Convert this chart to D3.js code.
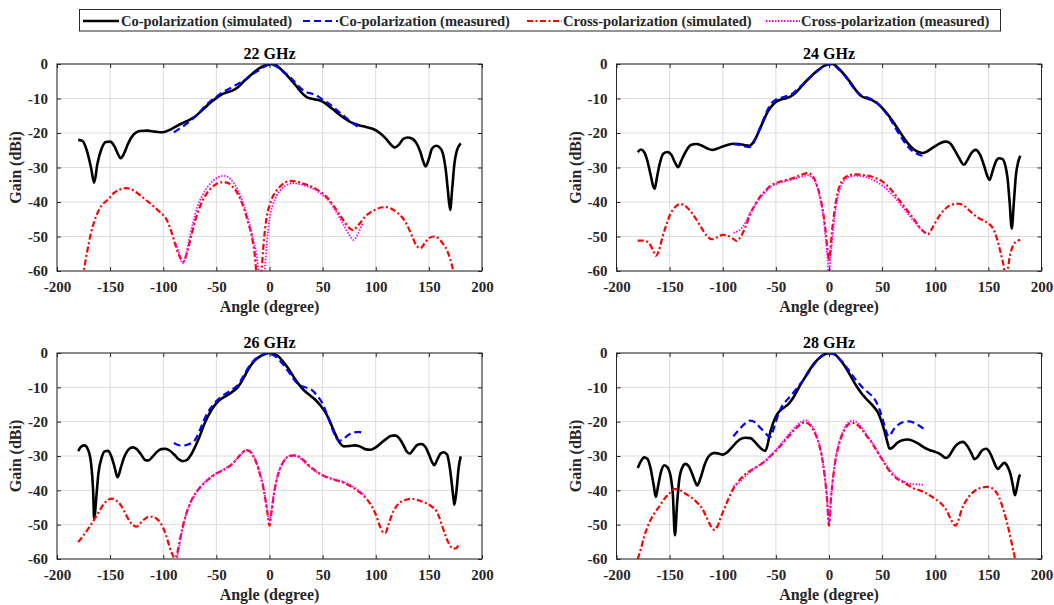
<!DOCTYPE html>
<html>
<head>
<meta charset="utf-8">
<script src="https://cdn.jsdelivr.net/npm/d3@7"></script>
<style>
  body { margin: 0; background: #fff; }
  svg { display: block; font-family: "Liberation Serif", "Times New Roman", serif; font-weight: bold; }
</style>
</head>
<body>
<div id="chart"></div>
<script>
// tick values shared by all panels
const xTicks = [-200, -150, -100, -50, 0, 50, 100, 150, 200];
const yTicks = [-60, -50, -40, -30, -20, -10, 0];

const titles = ["22 GHz", "24 GHz", "26 GHz", "28 GHz"];
const seriesNames = ["Co-polarization (simulated)", "Co-polarization (measured)",
                     "Cross-polarization (simulated)", "Cross-polarization (measured)"];

// [angle, gain]
const co22Sim = [[-180,-22],[-176,-22.3],[-172,-25],[-168,-30],[-165,-34.4],[-162,-29],[-158,-24.5],[-154,-22.6],[-150,-22.5],[-146,-23.8],[-142,-26.5],[-140,-27.3],[-137,-26],[-133,-23],[-128,-20.5],[-122,-19.4],[-115,-19.3],[-108,-19.6],[-100,-19.8],[-92,-18.8],[-85,-17.6],[-78,-16.6],[-70,-15.2],[-62,-13],[-55,-11],[-50,-9.9],[-45,-8.8],[-40,-8.2],[-35,-7.7],[-30,-6.8],[-25,-5.3],[-20,-3.8],[-15,-2.5],[-10,-1.3],[-5,-0.5],[0,-0.1],[3,0],[6,-0.3],[10,-1.3],[15,-2.8],[20,-4.5],[25,-6.3],[30,-8.2],[35,-9.6],[40,-10.1],[45,-10.4],[50,-10.9],[55,-12],[60,-13.2],[65,-14.5],[70,-15.6],[75,-16.6],[80,-17.3],[85,-17.8],[90,-18.2],[95,-18.6],[100,-19.2],[105,-20.3],[110,-21.8],[115,-23.6],[118,-24.2],[122,-23.3],[126,-21.7],[130,-21.3],[134,-21.6],[138,-22.8],[142,-25.5],[145,-28.5],[147,-29.7],[150,-27.5],[153,-24.5],[157,-23.7],[161,-24.5],[164,-27],[166,-31],[168,-37],[170,-42.3],[172,-36],[174,-29],[176,-25.5],[180,-23]];
const co22Meas = [[-90,-19.8],[-85,-18.8],[-80,-17.8],[-75,-16.6],[-70,-15.3],[-65,-13.7],[-60,-12],[-55,-10.6],[-50,-9.5],[-45,-8.3],[-40,-7.5],[-35,-6.7],[-30,-5.8],[-25,-5],[-20,-4],[-15,-2.8],[-10,-1.8],[-5,-0.8],[0,-0.2],[5,-0.5],[10,-1.5],[15,-2.7],[20,-4],[25,-5.6],[30,-7.2],[35,-8.2],[40,-8.6],[45,-9.3],[50,-10.3],[55,-11.3],[60,-12.5],[65,-13.8],[70,-15],[75,-16.3],[80,-17.5],[85,-18.6]];
const cross22Sim = [[-177,-62],[-175,-60],[-172,-55],[-168,-49],[-163,-44],[-158,-41],[-152,-39.3],[-146,-37.3],[-140,-36.3],[-135,-36],[-130,-36.3],[-125,-37.3],[-118,-39],[-110,-41],[-103,-43],[-97,-45],[-93,-48],[-89,-52],[-85,-55.5],[-81,-57.3],[-78,-55],[-75,-51.5],[-70,-45.5],[-65,-41],[-60,-38],[-55,-36],[-50,-34.8],[-45,-34.3],[-40,-34.4],[-35,-35.5],[-30,-37.5],[-25,-41],[-20,-46],[-16,-51],[-14,-55],[-12.5,-60],[-11,-65],[-9,-65],[-7.5,-60],[-5.5,-52],[-3,-45],[0,-41],[3,-38.5],[6,-37],[10,-35.5],[15,-34.3],[20,-33.9],[25,-34],[30,-34.5],[35,-35],[40,-35.6],[45,-36.5],[50,-37.5],[55,-39],[60,-41],[65,-43.2],[70,-45.5],[75,-47.5],[78,-48.1],[82,-47.3],[86,-45.8],[90,-44.2],[95,-43],[100,-42.2],[105,-41.6],[110,-41.5],[115,-42],[120,-43],[125,-44.5],[130,-47],[135,-50.5],[138,-52.5],[142,-53.4],[146,-52],[150,-50.5],[155,-50],[159,-50.5],[163,-52],[167,-54],[170,-56.5],[173,-60],[175,-63]];
const cross22Meas = [[-88,-52],[-85,-55],[-82,-57.8],[-79,-56],[-76,-51.5],[-72,-46],[-68,-41.5],[-63,-38],[-58,-35.5],[-53,-33.8],[-48,-32.8],[-43,-32.4],[-38,-33],[-33,-34.8],[-28,-37.8],[-24,-41],[-20,-45],[-16,-50],[-12,-56],[-10,-61],[-8,-66],[-6,-66],[-4.5,-60],[-2.5,-52],[0,-45],[3,-41],[7,-38],[12,-36],[17,-35],[22,-34.5],[28,-34.8],[34,-35.3],[40,-36],[46,-37],[52,-38.5],[58,-40.5],[64,-43.5],[70,-46.8],[75,-49.5],[79,-51],[82,-50],[85,-48],[88,-46]];

const co24Sim = [[-180,-25.6],[-177,-24.8],[-174,-25.5],[-171,-28],[-168,-32],[-165,-35.8],[-164,-36.2],[-162,-33],[-159,-28.5],[-156,-26],[-152,-25.5],[-148,-26.5],[-145,-28.5],[-142,-29.9],[-139,-28],[-135,-25.5],[-130,-23.5],[-125,-23.2],[-120,-23.6],[-115,-24.4],[-110,-24.9],[-105,-24.5],[-100,-23.9],[-95,-23.4],[-90,-23.1],[-85,-23.2],[-80,-23.5],[-75,-23.7],[-72,-23],[-69,-21.5],[-66,-19.5],[-62,-16.7],[-58,-14],[-54,-12.2],[-50,-11],[-45,-10.3],[-40,-9.9],[-36,-9.4],[-32,-8.5],[-28,-7.2],[-24,-5.8],[-20,-4.5],[-15,-3],[-10,-1.7],[-5,-0.6],[0,-0.1],[3,0],[6,-0.4],[10,-1.6],[15,-3.3],[20,-5.3],[25,-7.5],[30,-9.2],[35,-9.9],[40,-10.4],[45,-11.3],[50,-12.7],[55,-14.5],[60,-16.6],[65,-18.9],[70,-21.2],[75,-23.3],[80,-24.8],[85,-25.6],[88,-25.8],[92,-25.4],[96,-24.6],[100,-23.8],[105,-22.9],[110,-22.5],[114,-23],[118,-24.8],[122,-27],[127,-29.2],[130,-28],[134,-25.8],[138,-24.9],[142,-26.2],[146,-29.5],[149,-32.5],[151,-33.6],[154,-31],[157,-28.3],[160,-27.3],[163,-27.5],[166,-29.5],[168,-33],[170,-40],[172,-47.7],[174,-40],[176,-32],[178,-28.5],[180,-26.6]];
const co24Meas = [[-90,-23.2],[-85,-23.4],[-80,-23.8],[-75,-24.1],[-72,-23.4],[-69,-21.6],[-66,-19.3],[-62,-16.3],[-58,-13.4],[-54,-11.3],[-50,-10.3],[-45,-9.8],[-40,-9.3],[-35,-8.7],[-30,-7.4],[-25,-6],[-20,-4.6],[-15,-3.1],[-10,-1.8],[-5,-0.7],[0,-0.1],[5,-0.5],[10,-1.8],[15,-3.5],[20,-5.6],[25,-7.6],[30,-9],[35,-9.6],[40,-10.2],[45,-11.2],[50,-12.8],[55,-14.8],[60,-17.2],[65,-19.8],[70,-22.2],[75,-24.2],[80,-25.5],[85,-26.3],[88,-26.6],[90,-26.2]];
const cross24Sim = [[-180,-51.2],[-175,-51.2],[-171,-51.5],[-168,-52.5],[-165,-54.5],[-163,-55.6],[-160,-54],[-157,-50.5],[-153,-46.5],[-149,-43.3],[-145,-41.5],[-140,-40.6],[-135,-41.2],[-130,-42.8],[-125,-45],[-120,-47.5],[-115,-49.8],[-110,-50.8],[-105,-50.2],[-100,-49.5],[-95,-49.8],[-90,-50.7],[-87,-51.3],[-83,-50],[-79,-47.5],[-75,-44.2],[-70,-41],[-65,-38.5],[-60,-36.8],[-55,-35.3],[-50,-34.5],[-45,-34],[-40,-33.6],[-35,-33.2],[-30,-32.6],[-25,-32],[-20,-31.6],[-16,-32.3],[-12,-34.5],[-8,-39],[-5,-44],[-3,-49],[-1,-55],[0,-57],[1,-55],[3,-48],[5,-43],[8,-37.5],[12,-34],[16,-32.7],[20,-32.2],[25,-32],[30,-32.1],[35,-32.3],[40,-32.6],[45,-33.2],[50,-34],[55,-35.3],[60,-37],[65,-39],[70,-41],[75,-43],[80,-45],[85,-47.2],[90,-48.8],[93,-49.4],[96,-48.2],[100,-46],[105,-43.5],[110,-41.8],[116,-40.7],[122,-40.5],[128,-41.3],[134,-43],[140,-44.5],[146,-45.5],[150,-46.2],[154,-47.5],[158,-50.5],[161,-54],[164,-58],[166,-61],[168,-60],[170,-56],[173,-52.8],[176,-51.5],[180,-51]];
const cross24Meas = [[-90,-48.9],[-86,-48.5],[-82,-47.5],[-78,-45.5],[-74,-43],[-70,-41],[-65,-39],[-60,-37.2],[-55,-35.6],[-50,-34.8],[-45,-34.3],[-40,-33.9],[-35,-33.5],[-30,-33],[-25,-32.6],[-20,-32.3],[-16,-32.8],[-12,-35],[-8,-39.5],[-5,-45],[-3,-51],[-1,-58],[0,-63],[1,-58],[3,-51],[5,-45],[8,-39],[12,-35],[16,-33.2],[20,-32.6],[25,-32.4],[30,-32.5],[35,-32.8],[40,-33.4],[45,-34.2],[50,-35.2],[55,-36.5],[60,-38],[65,-39.8],[70,-41.8],[75,-43.7],[80,-45.6],[85,-47.4],[90,-49]];

const co26Sim = [[-180,-28.6],[-177,-27.2],[-174,-26.9],[-171,-28],[-168,-32],[-166,-40],[-165,-48.3],[-163,-42],[-161,-35],[-158,-30.5],[-155,-28.6],[-152,-28.5],[-149,-30],[-146,-33],[-143,-36.2],[-140,-33.5],[-137,-30.5],[-133,-28.2],[-129,-27.5],[-125,-28],[-121,-29.5],[-117,-31.2],[-114,-31.3],[-110,-30.2],[-106,-28.8],[-102,-28],[-98,-27.9],[-94,-28.4],[-90,-29.5],[-86,-30.8],[-82,-31.5],[-78,-31.2],[-74,-29.7],[-70,-27.3],[-66,-24.5],[-62,-21.2],[-58,-18.5],[-54,-16.3],[-50,-14.7],[-46,-13.5],[-42,-12.7],[-38,-12],[-34,-11.1],[-30,-10],[-26,-8.2],[-22,-5.9],[-18,-3.8],[-14,-2.2],[-10,-1.2],[-6,-0.5],[-2,-0.1],[1,0],[4,-0.2],[8,-0.9],[12,-2.2],[16,-3.8],[20,-5.6],[24,-7.6],[28,-9.3],[32,-10.7],[36,-11.8],[40,-12.8],[44,-13.9],[48,-15.3],[52,-17],[56,-19.3],[60,-22.3],[64,-25],[67,-26.5],[70,-27.2],[75,-27.1],[80,-26.9],[85,-27.2],[90,-28],[95,-28.2],[100,-27.5],[105,-26.2],[110,-25],[114,-24.2],[118,-24],[122,-24.8],[126,-26.8],[129,-28.6],[132,-29.3],[135,-28.3],[139,-26.8],[143,-26.5],[147,-27.5],[150,-29.5],[153,-31.8],[155,-32.7],[158,-31],[161,-29.3],[164,-28.9],[167,-29.5],[169,-32],[171,-36.5],[173,-42],[174,-44.2],[176,-40],[178,-33.5],[180,-30.1]];
const co26Meas = [[-90,-26.2],[-86,-26.8],[-82,-27],[-78,-26.8],[-74,-26.3],[-70,-25.3],[-66,-22.8],[-62,-19.8],[-58,-17.3],[-54,-15.5],[-50,-14],[-46,-12.9],[-42,-12],[-38,-11.2],[-34,-10.4],[-30,-9.4],[-26,-7.5],[-22,-5.3],[-18,-3.4],[-14,-2],[-10,-1.1],[-6,-0.5],[-2,-0.2],[2,-0.4],[6,-1.1],[10,-2.3],[14,-3.8],[18,-5.5],[22,-7.3],[26,-8.8],[30,-9.6],[35,-10.1],[40,-10.8],[45,-12.5],[50,-14.8],[54,-17.8],[58,-21.2],[62,-24.2],[65,-25.5],[68,-25.4],[72,-24.4],[76,-23.5],[80,-23.1],[84,-23],[88,-23.3],[90,-23.5]];
const cross26Sim = [[-180,-55.1],[-176,-53.5],[-172,-51.8],[-168,-50],[-164,-48],[-160,-46],[-156,-44],[-152,-42.8],[-148,-42.4],[-144,-43],[-140,-44.3],[-136,-46.5],[-132,-48.8],[-128,-50.2],[-125,-50.6],[-122,-49.7],[-118,-48.5],[-114,-47.7],[-110,-47.7],[-106,-48.3],[-102,-49.8],[-98,-52.5],[-95,-55.5],[-92,-58.3],[-89,-59.7],[-87,-58.5],[-85,-55.5],[-82,-51],[-78,-46.5],[-74,-43.3],[-70,-41],[-65,-39],[-60,-37.5],[-55,-36.2],[-50,-35.1],[-45,-34.3],[-40,-33.5],[-35,-32.3],[-30,-30.6],[-26,-29.2],[-22,-28.3],[-18,-28.8],[-15,-30.2],[-12,-32.3],[-9,-35.3],[-6,-39],[-4,-42.5],[-2,-46.5],[0,-50.3],[2,-46],[4,-41.5],[6,-38],[9,-34.5],[12,-32.3],[16,-30.5],[20,-29.9],[24,-29.8],[28,-30.2],[32,-31.2],[36,-32.5],[40,-33.5],[45,-34.7],[50,-35.6],[55,-36.3],[60,-36.8],[65,-37.3],[70,-37.8],[75,-38.6],[80,-39.5],[85,-40.6],[90,-42],[95,-44],[100,-47],[104,-50.5],[107,-52.2],[109,-52.4],[112,-50],[115,-47.3],[119,-44.8],[124,-43.3],[129,-42.7],[133,-42.5],[138,-42.7],[143,-43.2],[148,-43.8],[153,-44.8],[157,-46],[160,-48],[163,-50.8],[166,-53.5],[169,-55.6],[173,-57],[176,-56.8],[178,-56],[180,-55.8]];
const cross26Meas = [[-89,-64],[-87,-60],[-85,-56.5],[-82,-51.5],[-78,-46.5],[-74,-43.5],[-70,-41.3],[-65,-39],[-60,-37.3],[-55,-36],[-50,-35],[-45,-34.2],[-40,-33.3],[-35,-32.2],[-30,-30.5],[-26,-29.2],[-22,-28.2],[-18,-28.6],[-15,-30],[-12,-32],[-9,-35],[-6,-38.5],[-4,-42],[-2,-45.8],[0,-49],[2,-45.5],[4,-41],[6,-37.8],[9,-34.3],[12,-32.2],[16,-30.5],[20,-29.9],[24,-30],[28,-30.5],[32,-31.5],[36,-32.7],[40,-33.7],[45,-34.8],[50,-35.6],[55,-36.2],[60,-36.7],[65,-37.1],[70,-37.6],[75,-38.3],[80,-39.2],[85,-40.3],[90,-41.5]];

const co28Sim = [[-180,-33.5],[-177,-31.5],[-174,-30.4],[-171,-30.8],[-168,-33.5],[-165,-38.5],[-163,-41.9],[-161,-39],[-158,-34.5],[-155,-32.7],[-152,-33.3],[-149,-36],[-147,-41],[-145,-53.1],[-143,-44],[-141,-37],[-138,-33.3],[-135,-32.3],[-132,-33],[-129,-35],[-126,-37.5],[-124,-38.6],[-121,-36.5],[-117,-32.5],[-113,-30],[-108,-29.1],[-104,-29.3],[-100,-29.6],[-96,-29],[-92,-27.7],[-88,-26.3],[-84,-25.2],[-79,-24.7],[-74,-24.8],[-70,-25.8],[-66,-27.2],[-62,-28.3],[-60,-28.5],[-58,-27],[-56,-24],[-53,-20.8],[-50,-18.5],[-46,-16.8],[-42,-15.8],[-38,-14.8],[-34,-13.2],[-30,-11],[-26,-8.8],[-22,-6.8],[-18,-4.8],[-14,-3],[-10,-1.7],[-6,-0.7],[-2,-0.1],[2,0],[6,-0.5],[10,-1.8],[14,-3.4],[18,-5.4],[22,-7.6],[26,-9.7],[30,-11.5],[34,-13],[38,-14.3],[42,-15.6],[46,-17.3],[49,-19.5],[52,-22.5],[55,-26],[57,-27.9],[60,-27.5],[64,-26.2],[69,-25.4],[74,-25.2],[79,-25.6],[84,-26.4],[90,-27.6],[95,-28.3],[100,-28.8],[105,-29.5],[110,-30.6],[113,-30],[117,-28],[121,-26.5],[126,-25.9],[130,-27],[134,-29.2],[137,-30.9],[140,-30.2],[144,-28.4],[148,-27.9],[151,-28.8],[154,-30.8],[157,-33],[159,-33.8],[162,-32.8],[165,-32],[168,-33],[171,-35.5],[173,-38.5],[175,-41.4],[177,-39],[179,-36],[180,-35.4]];
const co28Meas = [[-90,-24.3],[-86,-22.8],[-82,-21.4],[-78,-20.3],[-75,-19.7],[-72,-19.8],[-68,-20.7],[-64,-22],[-60,-23.3],[-57,-24.2],[-55,-24.4],[-53,-23],[-50,-20],[-47,-17.3],[-44,-15.4],[-40,-13.8],[-36,-12.5],[-32,-11],[-28,-9.4],[-24,-7.8],[-20,-6],[-16,-4.1],[-12,-2.5],[-8,-1.2],[-4,-0.4],[0,-0.1],[4,-0.3],[8,-1.1],[12,-2.4],[16,-4],[20,-5.6],[24,-7.3],[28,-8.8],[32,-10.2],[36,-11.3],[40,-12.4],[44,-14],[47,-16],[50,-18.8],[53,-22],[55,-23.8],[57,-24.3],[59,-23.2],[62,-21.8],[66,-20.7],[70,-20.1],[75,-19.9],[80,-20.3],[85,-21.2],[90,-22.3]];
const cross28Sim = [[-180,-60],[-177,-57],[-174,-53.5],[-170,-50],[-165,-47],[-160,-44.8],[-155,-42.5],[-150,-40.8],[-145,-39.6],[-140,-40],[-135,-41],[-130,-42],[-125,-43.3],[-120,-45],[-116,-47.3],[-112,-50],[-108,-51.5],[-105,-50.5],[-102,-48],[-98,-45],[-94,-42],[-90,-39.5],[-85,-37.3],[-80,-35.6],[-75,-34.5],[-70,-33.5],[-65,-32.6],[-60,-31.5],[-55,-30],[-50,-28.5],[-45,-26.8],[-40,-25],[-35,-23.2],[-30,-21.6],[-26,-20.6],[-23,-20.2],[-20,-20.5],[-17,-21.3],[-14,-22.8],[-11,-25],[-8,-28.3],[-6,-31.5],[-4,-36],[-2,-42],[0,-50.3],[2,-42],[4,-36],[6,-31.5],[8,-28.3],[11,-25],[14,-22.7],[17,-21.2],[20,-20.5],[23,-20.4],[27,-21],[31,-22.3],[35,-24],[40,-26],[45,-28.5],[50,-31],[55,-33.5],[60,-35.5],[65,-36.8],[70,-37.7],[75,-38.6],[80,-39.5],[85,-40],[90,-40.6],[95,-41.5],[100,-42.5],[105,-43.7],[110,-45.5],[114,-48],[117,-49.7],[119,-50.3],[122,-48.5],[125,-45.5],[129,-43],[134,-41],[139,-39.8],[144,-39.2],[148,-39],[152,-39.2],[156,-40],[160,-42],[164,-45.5],[168,-50],[171,-54],[173,-57],[175,-60],[176,-63]];
const cross28Meas = [[-90,-38.8],[-85,-37.9],[-80,-36.3],[-75,-34.8],[-70,-33.6],[-65,-32.5],[-60,-31.3],[-55,-29.8],[-50,-28.2],[-45,-26.4],[-40,-24.5],[-35,-22.6],[-30,-21],[-26,-20],[-23,-19.6],[-20,-19.9],[-17,-20.8],[-14,-22.3],[-11,-24.6],[-8,-28],[-6,-31.3],[-4,-35.8],[-2,-41.5],[0,-49.5],[2,-41.5],[4,-35.5],[6,-31],[8,-27.8],[11,-24.5],[14,-22.2],[17,-20.6],[20,-19.9],[23,-19.7],[27,-20.4],[31,-21.8],[35,-23.6],[40,-25.8],[45,-28.4],[50,-30.8],[55,-33],[60,-35],[65,-36.5],[70,-37.4],[75,-38],[80,-38.2],[85,-38.3],[90,-38.5]];

const panelData = [
    [co22Sim, co22Meas, cross22Sim, cross22Meas],
    [co24Sim, co24Meas, cross24Sim, cross24Meas],
    [co26Sim, co26Meas, cross26Sim, cross26Meas],
    [co28Sim, co28Meas, cross28Sim, cross28Meas]
];

// line styles, same order as seriesNames
const styles = [
    {stroke: "#000000", width: 2.6, dash: null},
    {stroke: "#0000ff", width: 2.2, dash: "7,4"},
    {stroke: "#ff0000", width: 2.2, dash: "6,2.5,2,2.5"},
    {stroke: "#ff00ff", width: 1.8, dash: "1.5,1.5"}
];

// plot boxes (left, right, top, bottom)
const boxes = [
    [57, 482, 64, 271],
    [616.5, 1041.5, 64, 271],
    [57, 482, 353, 559],
    [616.5, 1041.5, 353, 559]
];

const W = 1054, H = 605;
const axisColor = "#262626";

const svg = d3.select("#chart").append("svg")
    .attr("width", W)
    .attr("height", H)
    .attr("viewBox", [0, 0, W, H]);

const defs = svg.append("defs");

boxes.forEach(([x0, x1, y0, y1], p) => {
    const x = d3.scaleLinear().domain([-200, 200]).range([x0, x1]);
    const y = d3.scaleLinear().domain([-60, 0]).range([y1, y0]);
    const g = svg.append("g");

    // grid
    g.append("g")
        .selectAll("line")
        .data(xTicks)
        .join("line")
        .attr("x1", d => x(d)).attr("x2", d => x(d))
        .attr("y1", y0).attr("y2", y1)
        .attr("stroke", "#dcdcdc").attr("stroke-width", 1);
    g.append("g")
        .selectAll("line")
        .data(yTicks)
        .join("line")
        .attr("x1", x0).attr("x2", x1)
        .attr("y1", d => y(d)).attr("y2", d => y(d))
        .attr("stroke", "#dcdcdc").attr("stroke-width", 1);

    // curves, clipped to the box
    defs.append("clipPath").attr("id", "clip" + p)
        .append("rect")
        .attr("x", x0).attr("y", y0)
        .attr("width", x1 - x0).attr("height", y1 - y0);

    const line = d3.line()
        .x(d => x(d[0]))
        .y(d => y(d[1]))
        .curve(d3.curveMonotoneX);

    const curves = g.append("g").attr("clip-path", `url(#clip${p})`);
    panelData[p].forEach((series, i) => {
        const s = styles[i];
        curves.append("path")
            .datum(series)
            .attr("fill", "none")
            .attr("stroke", s.stroke)
            .attr("stroke-width", s.width)
            .attr("stroke-dasharray", s.dash)
            .attr("stroke-linejoin", "round")
            .attr("d", line);
    });

    // axes with inward ticks on all sides
    const fmt = d => d;
    g.append("g")
        .attr("transform", `translate(0,${y1})`)
        .call(d3.axisBottom(x).tickValues(xTicks).tickFormat(fmt).tickSizeInner(-4).tickSizeOuter(0).tickPadding(10));
    g.append("g")
        .attr("transform", `translate(0,${y0})`)
        .call(d3.axisTop(x).tickValues(xTicks).tickFormat("").tickSizeInner(-4).tickSizeOuter(0));
    g.append("g")
        .attr("transform", `translate(${x0},0)`)
        .call(d3.axisLeft(y).tickValues(yTicks).tickFormat(fmt).tickSizeInner(-4).tickSizeOuter(0).tickPadding(9));
    g.append("g")
        .attr("transform", `translate(${x1},0)`)
        .call(d3.axisRight(y).tickValues(yTicks).tickFormat("").tickSizeInner(-4).tickSizeOuter(0));

    g.selectAll(".tick text")
        .attr("font-family", "Liberation Serif, serif")
        .attr("font-weight", "bold")
        .attr("font-size", 15)
        .attr("fill", axisColor);
    g.selectAll(".tick line").attr("stroke", axisColor);
    g.selectAll(".domain").remove();

    g.append("rect")
        .attr("x", x0).attr("y", y0)
        .attr("width", x1 - x0).attr("height", y1 - y0)
        .attr("fill", "none")
        .attr("stroke", axisColor)
        .attr("stroke-width", 1);

    // labels
    g.append("text")
        .attr("x", (x0 + x1) / 2).attr("y", y0 - 5)
        .attr("text-anchor", "middle")
        .attr("font-size", 16)
        .attr("fill", "#000")
        .text(titles[p]);
    g.append("text")
        .attr("x", (x0 + x1) / 2).attr("y", y1 + 41)
        .attr("text-anchor", "middle")
        .attr("font-size", 16)
        .attr("fill", axisColor)
        .text("Angle (degree)");
    g.append("text")
        .attr("transform", `translate(${x0 - 36},${(y0 + y1) / 2}) rotate(-90)`)
        .attr("text-anchor", "middle")
        .attr("font-size", 16)
        .attr("fill", axisColor)
        .text("Gain (dBi)");
});

// legend
const legend = svg.append("g");
legend.append("rect")
    .attr("x", 79.5).attr("y", 9.5)
    .attr("width", 921).attr("height", 21.5)
    .attr("fill", "#fff")
    .attr("stroke", axisColor)
    .attr("stroke-width", 1);

const legendSample = [[83, 119], [303, 338], [527, 562], [766, 800]];
const legendText = [121, 339, 563, 801];
seriesNames.forEach((name, i) => {
    const s = styles[i];
    legend.append("line")
        .attr("x1", legendSample[i][0]).attr("x2", legendSample[i][1])
        .attr("y1", 21).attr("y2", 21)
        .attr("stroke", s.stroke)
        .attr("stroke-width", s.width)
        .attr("stroke-dasharray", s.dash);
    legend.append("text")
        .attr("x", legendText[i]).attr("y", 26)
        .attr("font-size", 14.5)
        .attr("fill", axisColor)
        .text(name);
});
</script>
</body>
</html>
